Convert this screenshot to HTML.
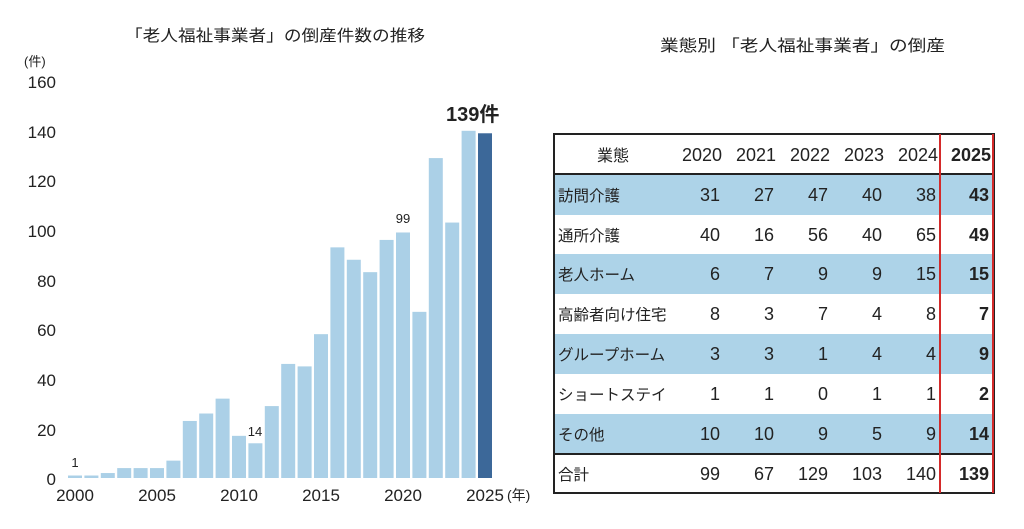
<!DOCTYPE html>
<html><head><meta charset="utf-8"><style>
html,body{margin:0;padding:0;background:#fff;}
svg{display:block;}
text{font-family:"Liberation Sans","Noto Sans CJK JP",sans-serif;fill:#222;}
</style></head><body>
<svg width="1024" height="529" viewBox="0 0 1024 529" xmlns="http://www.w3.org/2000/svg">
<text x="125" y="41" font-size="16" textLength="300" lengthAdjust="spacingAndGlyphs">「老人福祉事業者」の倒産件数の推移</text>
<text x="660" y="51" font-size="16" textLength="285" lengthAdjust="spacingAndGlyphs">業態別 「老人福祉事業者」の倒産</text>
<text x="24" y="66" font-size="13">(件)</text>
<g font-size="17" text-anchor="end">
<text x="56" y="88">160</text>
<text x="56" y="138">140</text>
<text x="56" y="187">120</text>
<text x="56" y="237">100</text>
<text x="56" y="287">80</text>
<text x="56" y="336">60</text>
<text x="56" y="386">40</text>
<text x="56" y="436">20</text>
<text x="56" y="485">0</text>
</g>
<g transform="translate(0,478) scale(1,-2.48)" fill="#abd0e7">
<rect x="68" y="0" width="14" height="1"/>
<rect x="84.4" y="0" width="14" height="1"/>
<rect x="100.8" y="0" width="14" height="2"/>
<rect x="117.2" y="0" width="14" height="4"/>
<rect x="133.6" y="0" width="14" height="4"/>
<rect x="150" y="0" width="14" height="4"/>
<rect x="166.4" y="0" width="14" height="7"/>
<rect x="182.8" y="0" width="14" height="23"/>
<rect x="199.2" y="0" width="14" height="26"/>
<rect x="215.6" y="0" width="14" height="32"/>
<rect x="232" y="0" width="14" height="17"/>
<rect x="248.4" y="0" width="14" height="14"/>
<rect x="264.8" y="0" width="14" height="29"/>
<rect x="281.2" y="0" width="14" height="46"/>
<rect x="297.6" y="0" width="14" height="45"/>
<rect x="314" y="0" width="14" height="58"/>
<rect x="330.4" y="0" width="14" height="93"/>
<rect x="346.8" y="0" width="14" height="88"/>
<rect x="363.2" y="0" width="14" height="83"/>
<rect x="379.6" y="0" width="14" height="96"/>
<rect x="396" y="0" width="14" height="99"/>
<rect x="412.4" y="0" width="14" height="67"/>
<rect x="428.8" y="0" width="14" height="129"/>
<rect x="445.2" y="0" width="14" height="103"/>
<rect x="461.6" y="0" width="14" height="140"/>
<rect x="478" y="0" width="14" height="139" fill="#3c6899"/>
</g>
<g font-size="13" text-anchor="middle">
<text x="75" y="467">1</text>
<text x="255" y="436">14</text>
<text x="403" y="223">99</text>
</g>
<text x="446" y="121" font-size="20" font-weight="bold">139件</text>
<g font-size="17" text-anchor="middle">
<text x="75" y="501">2000</text>
<text x="157" y="501">2005</text>
<text x="239" y="501">2010</text>
<text x="321" y="501">2015</text>
<text x="403" y="501">2020</text>
<text x="485" y="501">2025</text>
</g>
<text x="507" y="500" font-size="14">(年)</text>

<g fill="#add3e8">
<rect x="555" y="175" width="438" height="40"/>
<rect x="555" y="254" width="438" height="40"/>
<rect x="555" y="334" width="438" height="40"/>
<rect x="555" y="414" width="438" height="40"/>
</g>
<rect x="554" y="134" width="440" height="359" fill="none" stroke="#222" stroke-width="2"/>
<line x1="554" y1="174" x2="994" y2="174" stroke="#222" stroke-width="2"/>
<line x1="554" y1="454" x2="994" y2="454" stroke="#222" stroke-width="2"/>
<line x1="940" y1="134" x2="940" y2="493" stroke="#d42a2a" stroke-width="2"/>
<line x1="993" y1="134" x2="993" y2="493" stroke="#d42a2a" stroke-width="2"/>
<g font-size="18">
<text x="613" y="161" text-anchor="middle" font-size="16">業態</text>
<g text-anchor="end">
<text x="722" y="161">2020</text><text x="776" y="161">2021</text><text x="830" y="161">2022</text><text x="884" y="161">2023</text><text x="938" y="161">2024</text><text x="991" y="161" font-weight="bold">2025</text>
</g>
<g font-size="15.5">
<text x="558" y="201">訪問介護</text>
<text x="558" y="241">通所介護</text>
<text x="558" y="280">老人ホーム</text>
<text x="558" y="320">高齢者向け住宅</text>
<text x="558" y="360">グループホーム</text>
<text x="558" y="400">ショートステイ</text>
<text x="558" y="440">その他</text>
<text x="558" y="480">合計</text>
</g>
<g text-anchor="end">
<text x="720" y="201">31</text><text x="774" y="201">27</text><text x="828" y="201">47</text><text x="882" y="201">40</text><text x="936" y="201">38</text><text x="989" y="201" font-weight="bold">43</text>
<text x="720" y="241">40</text><text x="774" y="241">16</text><text x="828" y="241">56</text><text x="882" y="241">40</text><text x="936" y="241">65</text><text x="989" y="241" font-weight="bold">49</text>
<text x="720" y="280">6</text><text x="774" y="280">7</text><text x="828" y="280">9</text><text x="882" y="280">9</text><text x="936" y="280">15</text><text x="989" y="280" font-weight="bold">15</text>
<text x="720" y="320">8</text><text x="774" y="320">3</text><text x="828" y="320">7</text><text x="882" y="320">4</text><text x="936" y="320">8</text><text x="989" y="320" font-weight="bold">7</text>
<text x="720" y="360">3</text><text x="774" y="360">3</text><text x="828" y="360">1</text><text x="882" y="360">4</text><text x="936" y="360">4</text><text x="989" y="360" font-weight="bold">9</text>
<text x="720" y="400">1</text><text x="774" y="400">1</text><text x="828" y="400">0</text><text x="882" y="400">1</text><text x="936" y="400">1</text><text x="989" y="400" font-weight="bold">2</text>
<text x="720" y="440">10</text><text x="774" y="440">10</text><text x="828" y="440">9</text><text x="882" y="440">5</text><text x="936" y="440">9</text><text x="989" y="440" font-weight="bold">14</text>
<text x="720" y="480">99</text><text x="774" y="480">67</text><text x="828" y="480">129</text><text x="882" y="480">103</text><text x="936" y="480">140</text><text x="989" y="480" font-weight="bold">139</text>
</g>
</g>
</svg>
</body></html>
